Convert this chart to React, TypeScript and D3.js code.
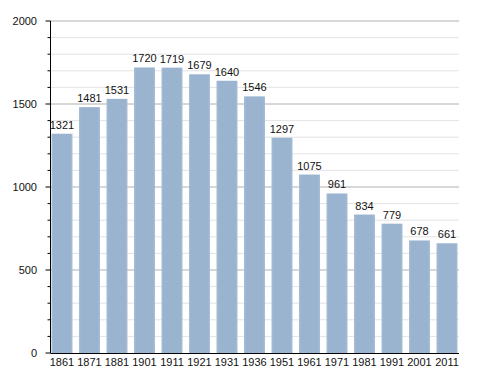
import React from "react";
import * as d3 from "d3";

const years = ["1861","1871","1881","1901","1911","1921","1931","1936","1951","1961","1971","1981","1991","2001","2011"];
const population = [1321,1481,1531,1720,1719,1679,1640,1546,1297,1075,961,834,779,678,661];
const majorTicks = [0, 500, 1000, 1500, 2000];

export default function App() {
  const W = 488, H = 373;
  const left = 50.5, right = 459, top = 21, bottom = 353;
  const x = d3.scaleBand<string>().domain(years).range([left, 458.5]).paddingInner(0.236).paddingOuter(0.036);
  const y = d3.scaleLinear().domain([0, 2000]).range([bottom, top]);
  const minor = d3.range(100, 2000, 100).filter(v => v % 500 !== 0);
  const font = "Liberation Sans, Arial, sans-serif";
  return (
    <svg width={W} height={H} style={{ position: "absolute", left: 0, top: 0 }}>
      <defs>
        <linearGradient id="bar" x1="0" x2="1" y1="0" y2="0">
          <stop offset="0" stopColor="#a9bfd8" />
          <stop offset="0.1" stopColor="#9ab3cf" />
          <stop offset="0.9" stopColor="#9ab3cf" />
          <stop offset="1" stopColor="#a9bfd8" />
        </linearGradient>
      </defs>
      <rect width={W} height={H} fill="#fff" />
      {minor.map(v => (
        <line key={"m" + v} x1={left} x2={right} y1={y(v)} y2={y(v)} stroke="#e3e3e3" strokeWidth={1} />
      ))}
      {majorTicks.filter(v => v > 0).map(v => (
        <line key={"g" + v} x1={left} x2={right} y1={y(v)} y2={y(v)} stroke="#b0b0b0" strokeWidth={1} />
      ))}
      {years.map((yr, i) => (
        <g key={yr}>
          <rect x={x(yr)} y={y(population[i])} width={x.bandwidth()} height={bottom - y(population[i])} fill="url(#bar)" />
          <text x={(x(yr) as number) + x.bandwidth() / 2} y={y(population[i]) - 5} textAnchor="middle" fontSize={11} fontFamily={font} fill="#111">
            {population[i]}
          </text>
          <text x={(x(yr) as number) + x.bandwidth() / 2} y={365.5} textAnchor="middle" fontSize={11} fontFamily={font} fill="#111">
            {yr}
          </text>
        </g>
      ))}
      <line x1={left} x2={left} y1={top} y2={bottom} stroke="#000" strokeWidth={1} />
      <line x1={left} x2={right} y1={bottom + 0.5} y2={bottom + 0.5} stroke="#000" strokeWidth={1} />
      {d3.range(0, 2001, 100).map(v => (
        <line key={"t" + v} x1={v % 500 === 0 ? left - 5 : left - 3} x2={left} y1={y(v)} y2={y(v)} stroke="#000" strokeWidth={1} />
      ))}
      {majorTicks.map(v => (
        <text key={"l" + v} x={37} y={y(v) + 4} textAnchor="end" fontSize={11} fontFamily={font} fill="#111">
          {v}
        </text>
      ))}
    </svg>
  );
}
